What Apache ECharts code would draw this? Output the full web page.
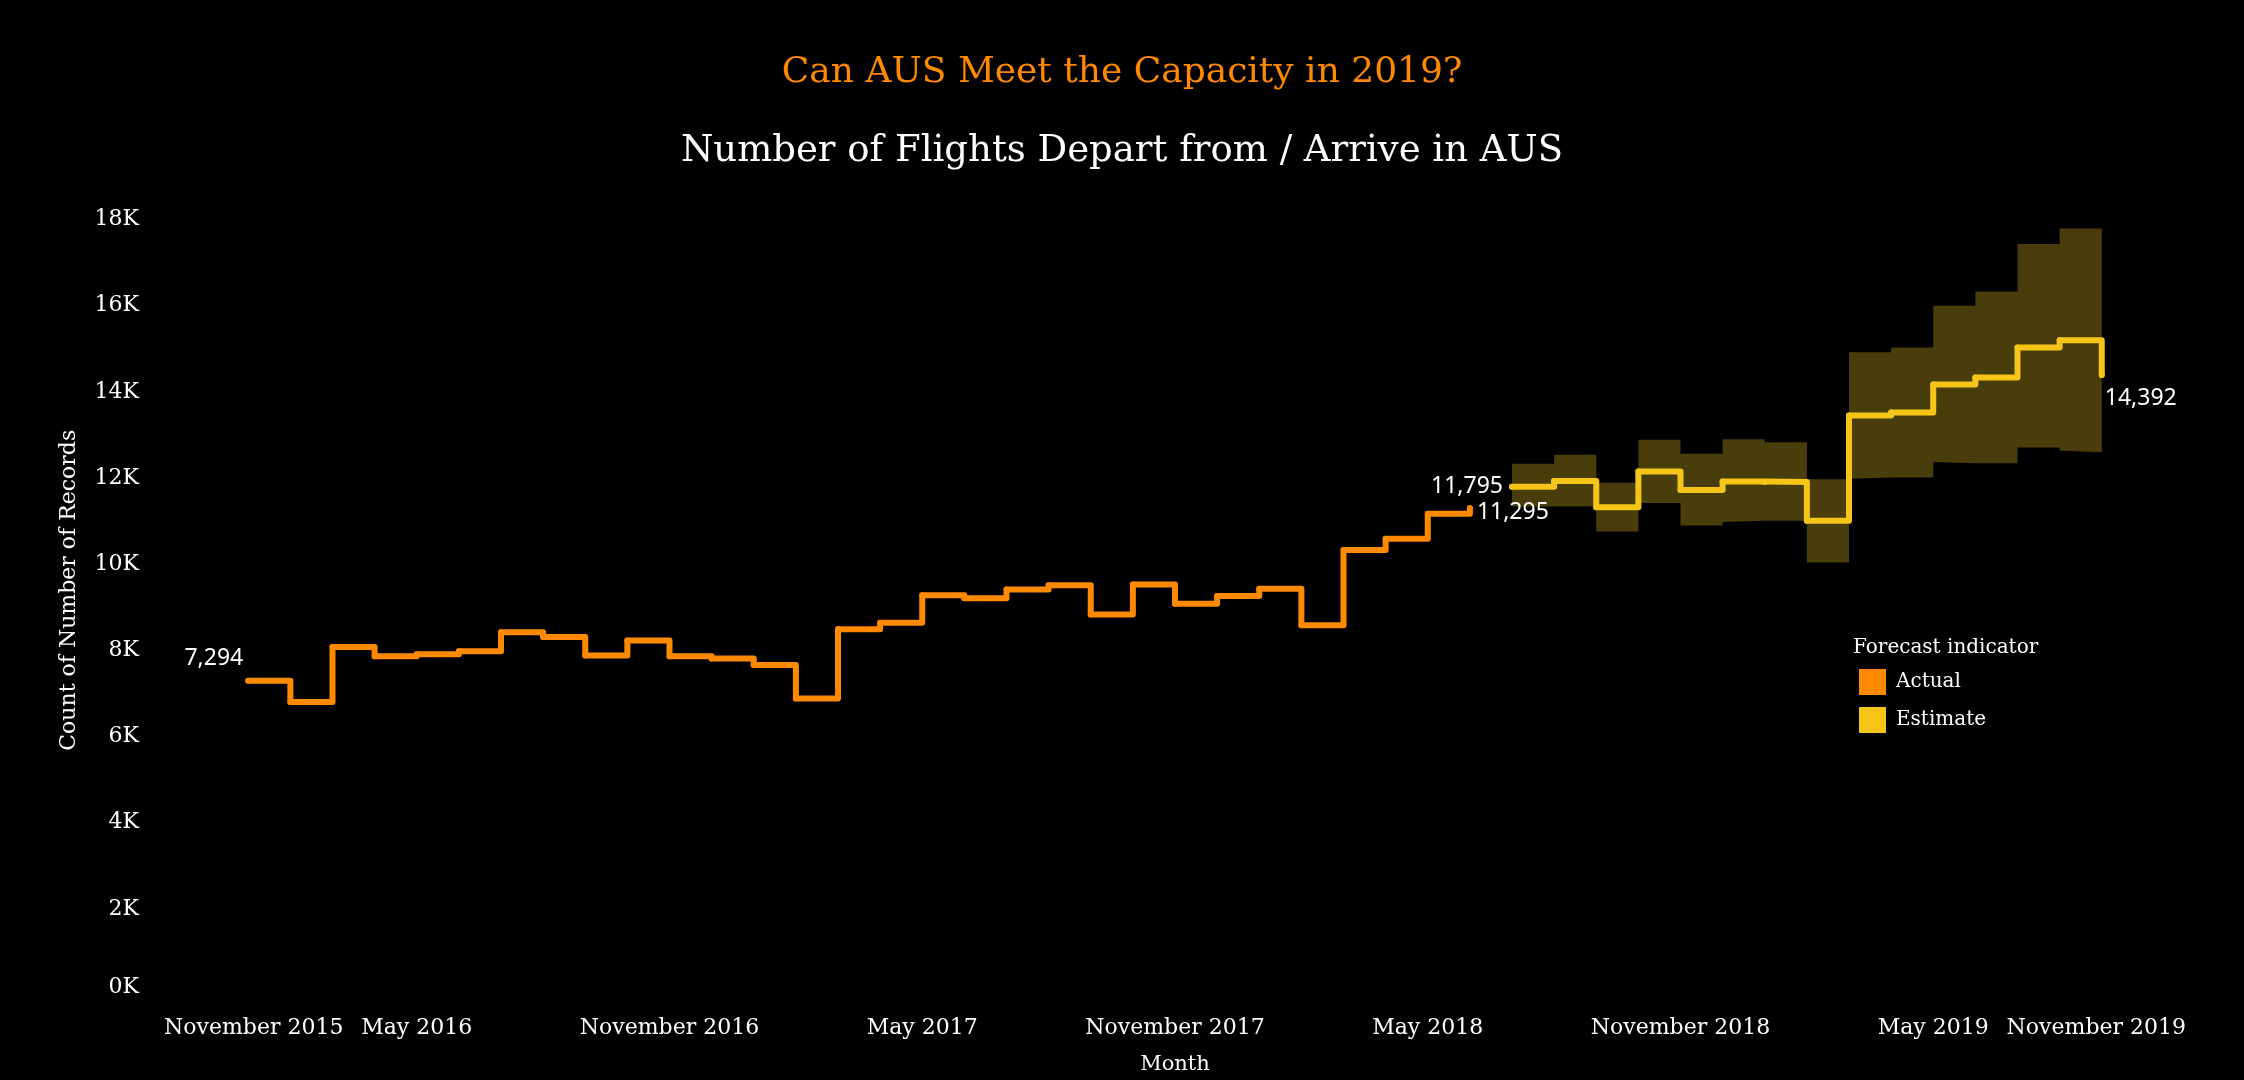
<!DOCTYPE html>
<html>
<head>
<meta charset="utf-8">
<title>Can AUS Meet the Capacity in 2019?</title>
<script src="https://cdn.jsdelivr.net/npm/echarts@6/dist/echarts.min.js"></script>
<style>
  html, body { margin: 0; padding: 0; background: #000; }
  #chart { width: 2244px; height: 1080px; }
</style>
</head>
<body>
<div id="chart"></div>
<script>
// month axis, November 2015 .. November 2019
var months = [
  'November 2015', 'December 2015',
  'January 2016', 'February 2016', 'March 2016', 'April 2016', 'May 2016', 'June 2016',
  'July 2016', 'August 2016', 'September 2016', 'October 2016', 'November 2016', 'December 2016',
  'January 2017', 'February 2017', 'March 2017', 'April 2017', 'May 2017', 'June 2017',
  'July 2017', 'August 2017', 'September 2017', 'October 2017', 'November 2017', 'December 2017',
  'January 2018', 'February 2018', 'March 2018', 'April 2018', 'May 2018', 'June 2018',
  'July 2018', 'August 2018', 'September 2018', 'October 2018', 'November 2018', 'December 2018',
  'January 2019', 'February 2019', 'March 2019', 'April 2019', 'May 2019', 'June 2019',
  'July 2019', 'August 2019', 'September 2019', 'October 2019', 'November 2019'
];
var xTickLabels = ['November 2015', 'May 2016', 'November 2016', 'May 2017', 'November 2017',
  'May 2018', 'November 2018', 'May 2019', 'November 2019'];

// actual counts, January 2016 .. June 2018
var actualFrom = 'January 2016';
var actualCounts = [7294, 6800, 8080, 7860, 7910, 7980, 8420, 8310, 7880, 8230, 7860, 7810,
  7660, 6880, 8490, 8640, 9280, 9210, 9410, 9510, 8830, 9530, 9080, 9260,
  9430, 8580, 10330, 10590, 11170, 11295];

// forecast, July 2018 .. September 2019
var estimateFrom = 'July 2018';
var estimateCounts = [11795, 11930, 11320, 12150, 11720, 11920, 11910, 11010,
  13450, 13520, 14170, 14330, 15030, 15200, 14392];
var estimateLow = [11340, 11340, 10760, 11420, 10900, 10980, 11010, 10040,
  11980, 12010, 12370, 12340, 12710, 12640, 12600];
var estimateHigh = [12330, 12540, 11890, 12890, 12560, 12900, 12830, 11970,
  14920, 15030, 16000, 16330, 17430, 17790, 17000];

var serifFont = '"DejaVu Serif", serif';
var orange = '#ff8a00';
var yellow = '#f5c518';

// leading gaps only: a trailing '-' would make step:'end' draw one extra month
function pad(values, from) {
  var start = months.indexOf(from);
  var out = [];
  for (var i = 0; i < start; i++) out.push('-');
  return out.concat(values);
}

var valueLabel = {
  show: true, color: '#ffffff', fontSize: 23, fontFamily: '"Noto Sans", sans-serif',
  formatter: function (p) { return echarts.format.addCommas(p.value); }
};
function labelled(arr, idx, extra) {
  arr[idx] = { value: arr[idx], label: Object.assign({}, valueLabel, extra) };
}

var actualData = pad(actualCounts, actualFrom);
var a0 = months.indexOf(actualFrom);
labelled(actualData, a0, { position: 'left', distance: 2, offset: [0, -22] });
labelled(actualData, a0 + actualCounts.length - 1, { position: 'right', distance: 4, offset: [0, 4] });

var estimateData = pad(estimateCounts, estimateFrom);
var e0 = months.indexOf(estimateFrom);
labelled(estimateData, e0, { position: 'left', distance: 6 });
labelled(estimateData, e0 + estimateCounts.length - 1, { position: 'right', distance: 0, offset: [0, 24] });

var bandLow = pad(estimateLow, estimateFrom);
var bandSpread = pad(estimateHigh.map(function (h, i) { return h - estimateLow[i]; }), estimateFrom);

var chart = echarts.init(document.getElementById('chart'));
var option = {
  backgroundColor: '#000000',
  animation: false,
  title: [
    {
      text: 'Can AUS Meet the Capacity in 2019?',
      left: 'center', top: 50,
      textStyle: { color: orange, fontSize: 36, fontWeight: 'normal', fontFamily: serifFont }
    },
    {
      text: 'Number of Flights Depart from / Arrive in AUS',
      left: 'center', top: 128,
      textStyle: { color: '#ffffff', fontSize: 37, fontWeight: 'normal', fontFamily: serifFont }
    }
  ],
  grid: { left: 164, right: 58, top: 219.5, bottom: 77 },
  xAxis: {
    type: 'category',
    data: months,
    boundaryGap: false,
    name: 'Month',
    nameLocation: 'middle',
    nameGap: 59,
    nameTextStyle: { color: '#ffffff', fontSize: 21, fontFamily: serifFont },
    axisLine: { show: false },
    axisTick: { show: false },
    axisLabel: {
      color: '#ffffff', fontSize: 22, fontFamily: serifFont, margin: 22,
      interval: function (idx, val) { return xTickLabels.indexOf(val) >= 0; },
      alignMinLabel: 'left', alignMaxLabel: 'right'
    },
    splitLine: { show: false }
  },
  yAxis: {
    type: 'value',
    min: 0, max: 18000, interval: 2000,
    name: 'Count of Number of Records',
    nameLocation: 'middle',
    nameGap: 84,
    nameTextStyle: { color: '#ffffff', fontSize: 22, fontFamily: serifFont, padding: [0, 0, 0, 34] },
    axisLine: { show: false },
    axisTick: { show: false },
    splitLine: { show: false },
    axisLabel: {
      color: '#ffffff', fontSize: 22, fontFamily: serifFont, margin: 25,
      formatter: function (v) { return v === 0 ? '{z|0K}' : (v / 1000) + 'K'; },
      rich: { z: { color: '#ffffff', fontSize: 22, fontFamily: serifFont, padding: [0, 0, 15, 0] } }
    }
  },
  series: [
    {
      name: 'band low', type: 'line', stack: 'band', step: 'end', data: bandLow,
      symbol: 'none', silent: true, lineStyle: { opacity: 0 }, z: 1
    },
    {
      name: 'band spread', type: 'line', stack: 'band', step: 'end', data: bandSpread,
      symbol: 'none', silent: true, lineStyle: { opacity: 0 },
      areaStyle: { color: '#4a3d0c', opacity: 1 }, z: 1
    },
    {
      name: 'Actual', type: 'line', step: 'end', data: actualData,
      symbol: 'circle', symbolSize: 6, itemStyle: { color: orange },
      lineStyle: { color: orange, width: 6, join: 'round', cap: 'round' }, z: 3
    },
    {
      name: 'Estimate', type: 'line', step: 'end', data: estimateData,
      symbol: 'circle', symbolSize: 6, itemStyle: { color: yellow },
      lineStyle: { color: yellow, width: 6, join: 'round', cap: 'round' }, z: 3
    }
  ],
  graphic: [
    { type: 'text', x: 1853, y: 648, style: { text: 'Forecast indicator', fill: '#ffffff', fontSize: 20, fontFamily: serifFont, verticalAlign: 'middle' } },
    { type: 'rect', shape: { x: 1859, y: 669, width: 27, height: 26 }, style: { fill: orange } },
    { type: 'text', x: 1896, y: 682, style: { text: 'Actual', fill: '#ffffff', fontSize: 20, fontFamily: serifFont, verticalAlign: 'middle' } },
    { type: 'rect', shape: { x: 1859, y: 707, width: 27, height: 26 }, style: { fill: yellow } },
    { type: 'text', x: 1896, y: 720, style: { text: 'Estimate', fill: '#ffffff', fontSize: 20, fontFamily: serifFont, verticalAlign: 'middle' } }
  ]
};
chart.setOption(option);
</script>
</body>
</html>
